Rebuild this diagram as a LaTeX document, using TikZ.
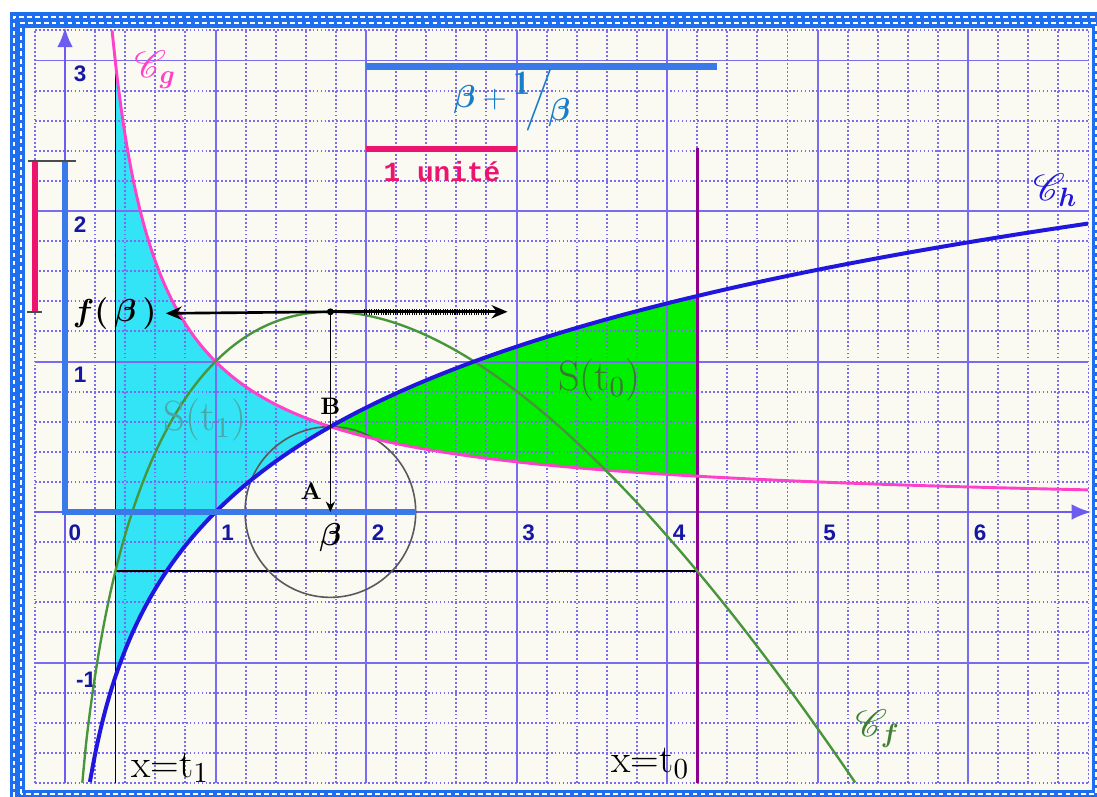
\documentclass[tikz,border=0pt]{standalone}
\usepackage{amsmath}
\usepackage{amsfonts}
\usepackage{mathrsfs}
\usepackage{fontspec}
\newfontfamily\ticksf{Liberation Sans}
\newfontfamily\monof{Liberation Mono}
\usepackage{tikz}
\usetikzlibrary{arrows.meta, positioning, calc}
\definecolor{fond}{RGB}{250,250,243}
\definecolor{gridc}{RGB}{122,108,240}
\definecolor{axisc}{RGB}{110,92,240}
\definecolor{tickc}{RGB}{22,22,165}
\definecolor{roseg}{RGB}{255,64,200}
\definecolor{bleuh}{RGB}{32,22,222}
\definecolor{vertf}{RGB}{72,150,60}
\definecolor{cyanfill}{RGB}{50,228,245}
\definecolor{vertfill}{RGB}{0,240,0}
\definecolor{violet}{RGB}{140,0,140}
\definecolor{barbleuc}{RGB}{58,122,232}
\definecolor{barrosec}{RGB}{236,20,110}
\definecolor{bpbc}{RGB}{25,125,200}
\definecolor{cadrec}{RGB}{30,110,240}
\newcommand{\bval}{1.76322}
\newcommand{\fb}{1.33036}
\newcommand{\bpb}{2.33036}
\newcommand{\tone}{0.335}
\newcommand{\tzero}{4.2}
\newcommand{\ftz}{-0.39226}
\tikzstyle{minorgrid} = [gridc, line width=0.7pt, dash pattern=on 0.7pt off 0.8pt]
\tikzstyle{majorgrid} = [gridc, line width=0.75pt]
\tikzstyle{axis} = [axisc, line width=1.1pt, -{Latex[length=7.5pt,width=6pt]}]
\tikzstyle{courbeg} = [roseg, line width=1.1pt]
\tikzstyle{courbeh} = [bleuh, line width=1.5pt]
\tikzstyle{courbef} = [vertf, line width=0.9pt]
\tikzstyle{barbleu} = [barbleuc, line width=2.6pt]
\tikzstyle{barrose} = [barrosec, line width=2.3pt]
\tikzstyle{fine} = [black, line width=0.5pt]
\tikzstyle{arrow} = [black, line width=1pt, -{Stealth[length=6pt,width=5pt]}]
\tikzstyle{ticklabel} = [text=tickc, font=\ticksf\bfseries\fontsize{8.5}{10}\selectfont, inner sep=0pt]
\tikzstyle{ptlabel} = [font=\bfseries\fontsize{9}{10}\selectfont, inner sep=0pt]
\tikzstyle{droite} = [font=\fontsize{15}{17}\selectfont, inner sep=0pt]
\tikzstyle{courbelabel} = [font=\fontsize{14}{16}\selectfont, inner sep=0pt]
\tikzstyle{trous} = [white, line width=0.75pt, dash pattern=on 1.8pt off 1.2pt]

\begin{document}
\begin{tikzpicture}[x=2cm, y=2cm]
        \useasboundingbox (-0.432,-1.887) rectangle (6.857,3.402);
        \fill[white] (-0.432,-1.887) rectangle (6.857,3.402);
        \fill[fond] (-0.316,-1.897) rectangle (6.874,3.269);

        % aires S(t1) et S(t0)
        \fill[cyanfill] plot[domain=\tone:\bval, samples=60] (\x,{1/\x}) -- plot[domain=\bval:\tone, samples=60] (\x,{ln(\x)}) -- cycle;
        \fill[vertfill] plot[domain=\bval:\tzero, samples=60] (\x,{ln(\x)}) -- plot[domain=\tzero:\bval, samples=60] (\x,{1/\x}) -- cycle;

        % quadrillage
        \draw[minorgrid] (-0.2,-1.8) grid[step=0.2] (6.8,3.2);
        \draw[majorgrid] (-0.2,-1.8) grid[step=1] (6.8,3.2);
        \draw[axis] (-0.2,0) -- (6.82,0);
        \draw[axis] (0,-1.8) -- (0,3.22);
        \foreach \n in {1,...,6}
            \node[ticklabel] at (\n+0.08,-0.14) {\n};
        \node[ticklabel] at (0.066,-0.14) {0};
        \foreach \n in {1,2,3}
            \node[ticklabel] at (0.1,\n-0.09) {\n};
        \node[ticklabel] at (0.14,-1.116) {-1};

        % points
        \coordinate (A) at (\bval,0);
        \coordinate (B) at (\bval,{1/\bval});
        \coordinate (S) at (\bval,\fb);
        \coordinate (fr) at (2.94,\fb);

        % droites x=t1, x=t0
        \draw[fine] (\tone,{1/\tone}) -- (\tone,-1.8);
        \draw[violet, line width=1.1pt] (\tzero,2.42) -- (\tzero,-1.8);
        \draw[fine] (\tone,\ftz) -- (\tzero,\ftz);
        \draw[black!65, line width=0.6pt] (A) circle[radius={1/\bval}];

        % courbes
        \draw[courbeg] plot[domain=0.3125:6.8, samples=200, smooth] (\x,{1/\x});
        \draw[courbef] plot[domain=0.115:5.25, samples=200, smooth] (\x,{(1-\x)*ln(\x)+\x});
        \draw[courbeh] plot[domain=0.1653:6.8, samples=200, smooth] (\x,{ln(\x)});

        % segments de longueur 1 et beta+1/beta
        \draw[barbleu] (0,\bpb) -- (0,0) -- (\bpb,0);
        \draw[barrose] (-0.2,\bpb) -- (-0.2,\fb);
        \draw[black!70, line width=0.6pt] (-0.246,\bpb) -- (0.073,\bpb);
        \draw[black!70, line width=0.6pt] (-0.25,\fb) -- (-0.15,\fb);
        \draw[barbleu, line width=2.3pt] (2,2.96) -- (2+\bpb,2.96);
        \draw[barrose] (2,2.41) -- (3,2.41);

        \node (fbeta) at (0.33,1.32) {\fontsize{12.5}{14}\selectfont$\boldsymbol{f(\,\beta\,)}$};
        \draw[arrow] (S) -- (fbeta.east);
        \draw[arrow] (S) -- (fr);
        \draw[black, line width=2.2pt, dash pattern=on 0.4pt off 0.5pt] ($(S)!0.19!(fr)$) -- ($(S)!0.9!(fr)$);
        \draw[fine, -{Stealth[length=4pt,width=3.5pt]}] (S) -- (A);
        \fill (S) circle[radius=1.3pt];

        % etiquettes
        \node (labA) [ptlabel, above left=4.5pt and 3pt of A] {A};
        \node (labB) [ptlabel, above=4.5pt of B] {B};
        \node (labbeta) [below=4pt of A, inner sep=0pt] {\fontsize{12}{14}\selectfont$\boldsymbol{\beta}$};
        \node (unite) [text=barrosec, font=\monof\bfseries\fontsize{10.5}{12}\selectfont] at (2.505,2.26) {1 unité};
        \node (bpb) [text=bpbc, font=\fontsize{13}{15}\selectfont] at (2.97,2.74) {$\boldsymbol{\beta} + \raisebox{5pt}{$\mathbf{1}$}\!\Big/\!\raisebox{-5pt}{$\boldsymbol{\beta}$}$};
        \node (Cg) [courbelabel, text=roseg] at (0.6,2.94) {$\mathscr{C}_{\boldsymbol{g}}$};
        \node (Ch) [courbelabel, text=bleuh] at (6.58,2.14) {$\mathscr{C}_{\boldsymbol{h}}$};
        \node (Cf) [courbelabel, text=vertf!85!black] at (5.4,-1.44) {$\mathscr{C}_{\boldsymbol{f}}$};
        \node (St1) [text=teal!70, font=\fontsize{16}{18}\selectfont] at (0.93,0.61) {S(t$_1$)};
        \node (St0) [text=vertf!80!black, font=\fontsize{16}{18}\selectfont] at (3.55,0.88) {S(t$_0$)};
        \node (xt1) [droite] at (0.70,-1.70) {x=t$_1$};
        \node (xt0) [droite] at (3.89,-1.67) {x=t$_0$};

        % cadre
        \draw[cadrec, line width=5.7pt] (-0.316,-1.897) rectangle (6.874,3.269);
        \draw[trous] (-0.293,-1.874) rectangle (6.851,3.246);
        \draw[trous, dash phase=1.5pt] (-0.339,-1.920) rectangle (6.897,3.292);
\end{tikzpicture}
\end{document}
